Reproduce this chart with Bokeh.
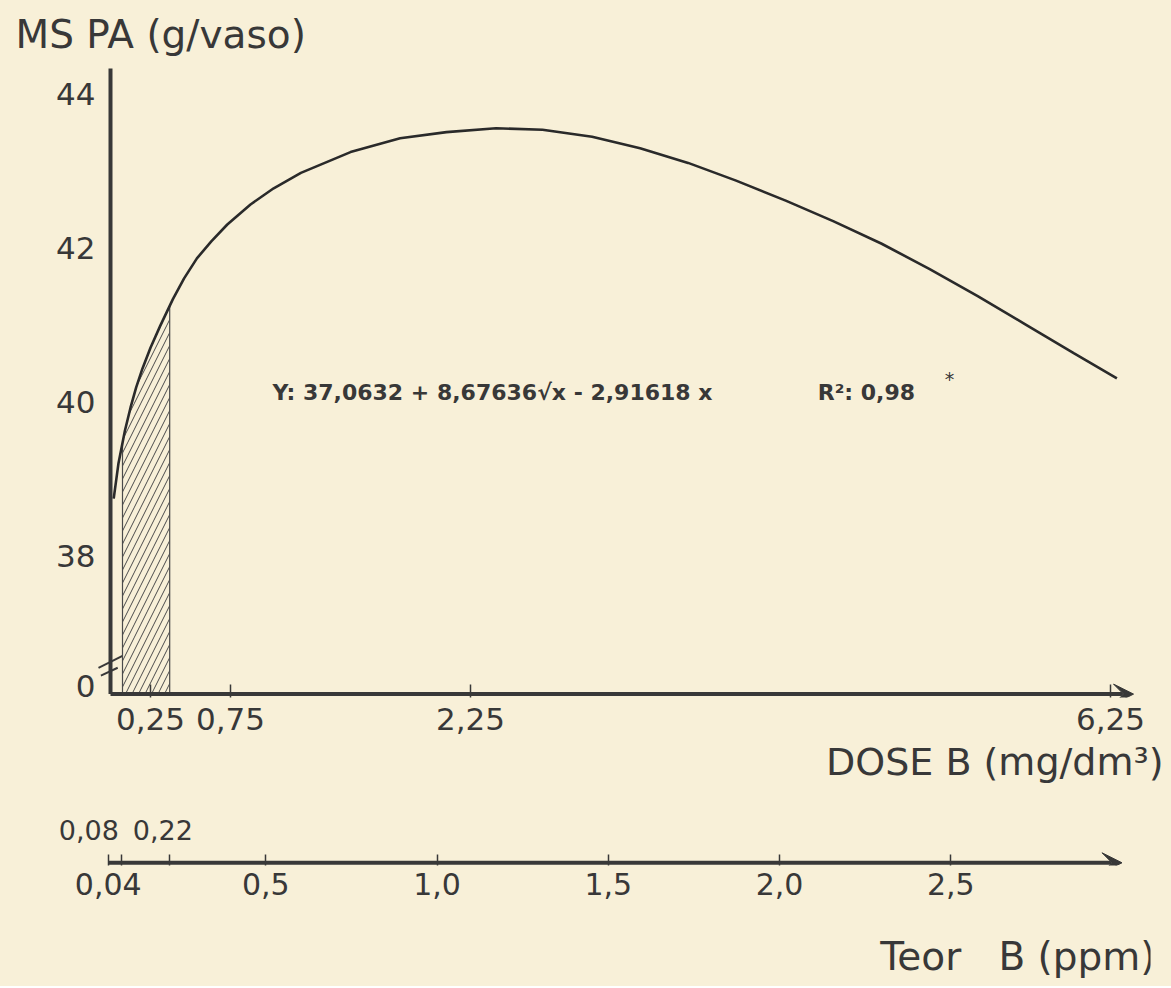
from bokeh.plotting import figure
from bokeh.models import FixedTicker, Label, Arrow, VeeHead, Range1d, Title
from bokeh.layouts import column
from bokeh.embed import file_html
from bokeh.resources import INLINE

# ---------------- data ----------------
dose = [0.02, 0.05, 0.09, 0.125, 0.16, 0.2, 0.25, 0.31, 0.39, 0.46, 0.54, 0.63,
        0.73, 0.875, 1.02, 1.19, 1.5, 1.81, 2.1, 2.41, 2.7, 3.01, 3.31, 3.61,
        3.91, 4.22, 4.52, 4.82, 5.12, 5.42, 5.72, 6.02, 6.29]
ms_pa = [38.74, 39.20, 39.62, 39.92, 40.18, 40.43, 40.70, 40.98, 41.33, 41.60,
         41.86, 42.08, 42.30, 42.56, 42.77, 42.97, 43.24, 43.42, 43.50, 43.55,
         43.53, 43.44, 43.29, 43.10, 42.87, 42.61, 42.34, 42.05, 41.72, 41.37,
         41.00, 40.63, 40.30]

dose_ticks = [0.25, 0.75, 2.25, 6.25]
dose_tick_labels = ["0,25", "0,75", "2,25", "6,25"]

y_ticks = [36.3, 38, 40, 42, 44]          # first tick = broken-axis origin
y_tick_labels = ["0", "38", "40", "42", "44"]

teor_ticks = [0.04, 0.5, 1.0, 1.5, 2.0, 2.5]
teor_tick_labels = ["0,04", "0,5", "1,0", "1,5", "2,0", "2,5"]
teor_minor = [0.08, 0.22]
teor_minor_labels = ["0,08", "0,22"]

hatch_bounds = [0.075, 0.37]          # dose range shaded (Teor 0,08 - 0,22)
hatch_bound_tops = [39.46, 41.25]

equation = "Y: 37,0632 + 8,67636\u221ax - 2,91618 x"
r2_text = "R\u00b2: 0,98"

# ---------------- styling ----------------
BG = "#f8f0d8"
INK = "#383838"
FONT = "DejaVu Sans"
W = 1171
LEFT = 50
RIGHT = W - 1150

# main panel geometry (data units)
X0, X1 = (LEFT - 110) / 160, 6.5   # frame
X_TIP = 6.394                      # arrow tip of the dose axis
Y_AX = 36.2                        # level of the dose axis line
Y0, Y1 = 36.156, 44.43
Y_TOP = 44.325                     # top of drawn y axis

p1 = figure(width=W, height=800, x_range=Range1d(X0, X1), y_range=Range1d(Y0, Y1),
            output_backend="svg", toolbar_location=None,
            min_border_left=LEFT, min_border_right=RIGHT, min_border_top=60,
            min_border_bottom=103)
p1.background_fill_color = BG
p1.border_fill_color = BG
p1.outline_line_color = None
p1.grid.visible = False

p1.title.text = "MS PA (g/vaso)"
p1.title.align = "left"
p1.title.offset = 15 - LEFT
p1.title.standoff = 8
p1.title.text_font = FONT
p1.title.text_font_size = "39px"
p1.title.text_font_style = "normal"
p1.title.text_color = INK

xa = p1.xaxis[0]
xa.ticker = FixedTicker(ticks=dose_ticks, minor_ticks=[])
xa.major_label_overrides = dict(zip(dose_ticks, dose_tick_labels))
ya = p1.yaxis[0]
ya.ticker = FixedTicker(ticks=y_ticks, minor_ticks=[])
ya.major_label_overrides = dict(zip(y_ticks, y_tick_labels))
ya.fixed_location = 0
for ax in (xa, ya):
    ax.axis_line_color = None
    ax.major_tick_line_color = INK
    ax.major_tick_line_width = 1.5
    ax.major_tick_out = 0
    ax.minor_tick_line_color = None
    ax.major_label_text_font = FONT
    ax.major_label_text_font_size = "31px"
    ax.major_label_text_color = INK
xa.major_tick_in = 13
xa.major_label_standoff = 10
ya.major_tick_in = 0
ya.major_tick_line_color = None
ya.major_label_standoff = 15

# drawn axis lines
p1.segment(x0=[0], y0=[Y_AX], x1=[0], y1=[Y_TOP], line_color=INK, line_width=4)
p1.add_layout(Arrow(end=VeeHead(size=20, fill_color=INK, line_color=INK, line_width=1),
                    x_start=0, y_start=Y_AX, x_end=X_TIP, y_end=Y_AX,
                    line_color=INK, line_width=4))

# axis break marks
break_y = 36.62
bdx, bdy = 12 / 160, 6 / 77
p1.segment(x0=[-bdx, -bdx * 0.8], y0=[break_y - bdy, break_y - 2.3 * bdy],
           x1=[bdx, bdx * 0.6], y1=[break_y + bdy, break_y - 1.0 * bdy],
           line_color=INK, line_width=2)

# hatched region under the curve
hx = [hatch_bounds[0]] + [d for d in dose if hatch_bounds[0] < d < hatch_bounds[1]] + [hatch_bounds[1]]
hy = [hatch_bound_tops[0]] + [v for d, v in zip(dose, ms_pa) if hatch_bounds[0] < d < hatch_bounds[1]] + [hatch_bound_tops[1]]
p1.varea(x=hx, y1=[Y_AX] * len(hx), y2=hy, fill_color=None, fill_alpha=0,
         hatch_pattern="/", hatch_color="#4a4a4a", hatch_weight=1, hatch_scale=13)
p1.segment(x0=hatch_bounds, y0=[Y_AX, Y_AX], x1=hatch_bounds, y1=hatch_bound_tops,
           line_color="#4a4a4a", line_width=1.2)

# the curve
p1.line(dose, ms_pa, line_color="#2a2a2a", line_width=2.6)

# equation texts
p1.add_layout(Label(x=1.0125, y=40.12, text=equation, text_font=FONT,
                    text_font_size="22px", text_font_style="bold", text_color=INK,
                    text_baseline="alphabetic"))
p1.add_layout(Label(x=4.42, y=40.12, text=r2_text, text_font=FONT,
                    text_font_size="22px", text_font_style="bold", text_color=INK,
                    text_baseline="alphabetic"))
p1.add_layout(Label(x=4.42, y=40.12, x_offset=127, y_offset=13, text="*", text_font=FONT,
                    text_font_size="19px", text_color=INK, text_baseline="alphabetic"))

p1.add_layout(Title(text="DOSE B (mg/dm\u00b3)", align="right", offset=-13, standoff=10,
                    text_font=FONT, text_font_size="38px", text_font_style="normal",
                    text_color=INK), "below")

# ---------------- second axis: Teor B ----------------
T0, T1 = (LEFT - 94) / 342.5, (1150 - 94) / 342.5
T_TIP = 3.0
H2 = 112
p2 = figure(width=W, height=H2, x_range=Range1d(T0, T1), y_range=Range1d(-0.05, 1.0),
            output_backend="svg", toolbar_location=None, y_axis_location=None,
            title=None, min_border_left=LEFT, min_border_right=RIGHT, min_border_top=8,
            min_border_bottom=H2 - 8 - 57)
p2.background_fill_color = BG
p2.border_fill_color = BG
p2.outline_line_color = None
p2.grid.visible = False
ta = p2.xaxis[0]
ta.ticker = FixedTicker(ticks=teor_ticks, minor_ticks=teor_minor)
ta.major_label_overrides = dict(zip(teor_ticks, teor_tick_labels))
ta.axis_line_color = None
ta.major_tick_line_color = INK
ta.major_tick_line_width = 1.5
ta.major_tick_in = 11
ta.major_tick_out = 0
ta.minor_tick_line_color = INK
ta.minor_tick_line_width = 1.5
ta.minor_tick_in = 11
ta.minor_tick_out = 0
ta.major_label_standoff = 7
ta.major_label_text_font = FONT
ta.major_label_text_font_size = "30px"
ta.major_label_text_color = INK

p2.add_layout(Arrow(end=VeeHead(size=20, fill_color=INK, line_color=INK, line_width=1),
                    x_start=teor_ticks[0], y_start=0, x_end=T_TIP, y_end=0,
                    line_color=INK, line_width=4))
p2.add_layout(Label(x=teor_minor[0], y=0, x_offset=-3, y_offset=33, text=teor_minor_labels[0],
                    text_font=FONT, text_font_size="27px", text_color=INK,
                    text_align="right", text_baseline="alphabetic"))
p2.add_layout(Label(x=teor_minor[1], y=0, x_offset=-37, y_offset=33, text=teor_minor_labels[1],
                    text_font=FONT, text_font_size="27px", text_color=INK,
                    text_align="left", text_baseline="alphabetic"))

# ---------------- axis title strip ----------------
H3 = 74
p3 = figure(width=W, height=H3, x_range=Range1d(0, 1), y_range=Range1d(0, 1),
            output_backend="svg", toolbar_location=None, title=None,
            x_axis_location=None, y_axis_location=None,
            min_border_left=LEFT, min_border_right=RIGHT, min_border_top=0, min_border_bottom=0)
p3.background_fill_color = BG
p3.border_fill_color = BG
p3.outline_line_color = None
p3.grid.visible = False
p3.add_layout(Label(x=1, y=0.5, x_offset=5, y_offset=-7, text="Teor\u00a0\u00a0\u00a0B (ppm)",
                    text_font=FONT, text_font_size="39px", text_color=INK,
                    text_align="right", text_baseline="middle"))

layout = column(p1, p2, p3, spacing=0)
layout.styles = {"background-color": BG}
open("out.html", "w").write(file_html(layout, INLINE))
